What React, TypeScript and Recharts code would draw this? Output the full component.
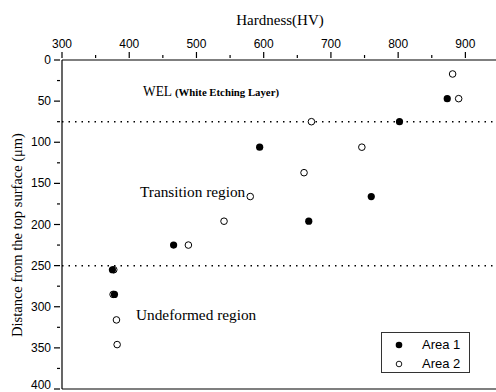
import { ReferenceLine, Scatter, ScatterChart, XAxis, YAxis } from "recharts";

const area1Hardness = [873, 802, 594, 760, 667, 466, 375, 378];
const area1Depth = [47, 75, 106, 166, 196, 225, 255, 285];
const area2Hardness = [881, 890, 671, 746, 660, 580, 541, 488, 377, 376, 381, 382];
const area2Depth = [17, 47, 75, 106, 137, 166, 196, 225, 255, 285, 316, 346];

const xTicks = [300, 350, 400, 450, 500, 550, 600, 650, 700, 750, 800, 850, 900, 950];
const yTicks = [0, 25, 50, 75, 100, 125, 150, 175, 200, 225, 250, 275, 300, 325, 350, 375, 400];
const boundaries = [75, 250];

const area1 = area1Hardness.map((hv, i) => ({ hv, depth: area1Depth[i] }));
const area2 = area2Hardness.map((hv, i) => ({ hv, depth: area2Depth[i] }));

const SANS = '"Liberation Sans", Arial, sans-serif';
const SERIF = '"Liberation Serif", "Times New Roman", serif';

// eslint-disable-next-line @typescript-eslint/no-explicit-any
function TopTick({ x, y, payload }: any) {
  const major = payload.value % 100 === 0;
  return (
    <g>
      <line x1={x} x2={x} y1={y - (major ? 6 : 3)} y2={y} stroke="#000" strokeWidth={1.2} />
      {major && (
        <text x={x} y={y - 10} textAnchor="middle" fontFamily={SANS} fontSize={12} fill="#000">
          {payload.value}
        </text>
      )}
    </g>
  );
}

// eslint-disable-next-line @typescript-eslint/no-explicit-any
function LeftTick({ x, y, payload }: any) {
  const major = payload.value % 50 === 0;
  // bottom label sits on the page edge, lift it so it stays readable
  const dy = payload.value === 400 ? 0 : 4;
  return (
    <g>
      <line x1={x - (major ? 6 : 3)} x2={x} y1={y} y2={y} stroke="#000" strokeWidth={1.2} />
      {major && (
        <text x={x - 9} y={y + dy} textAnchor="end" fontFamily={SANS} fontSize={12} fill="#000">
          {payload.value}
        </text>
      )}
    </g>
  );
}

// eslint-disable-next-line @typescript-eslint/no-explicit-any
function OpenDot({ cx, cy }: any) {
  return <circle cx={cx} cy={cy} r={3.3} fill="#fff" stroke="#000" strokeWidth={1} />;
}

// eslint-disable-next-line @typescript-eslint/no-explicit-any
function FilledDot({ cx, cy }: any) {
  return <circle cx={cx} cy={cy} r={3.6} fill="#000" />;
}

export default function App() {
  return (
    <div style={{ position: "absolute", left: 0, top: 0, width: 496, height: 392, overflow: "hidden", background: "#fff" }}>
      <ScatterChart width={499} height={392} margin={{ top: 0, right: 0, bottom: 3, left: 0 }}>
        <XAxis
          type="number"
          dataKey="hv"
          orientation="top"
          domain={[300, 950]}
          ticks={xTicks}
          interval={0}
          height={60}
          tickSize={0}
          tickLine={false}
          tick={<TopTick />}
          axisLine={{ stroke: "#000", strokeWidth: 1.2 }}
        />
        <YAxis
          type="number"
          dataKey="depth"
          reversed
          domain={[0, 400]}
          ticks={yTicks}
          interval={0}
          width={62}
          tickSize={0}
          tickLine={false}
          tick={<LeftTick />}
          axisLine={{ stroke: "#000", strokeWidth: 1.2 }}
        />
        {boundaries.map((b) => (
          <ReferenceLine key={b} y={b} stroke="#000" strokeWidth={1.5} strokeDasharray="1.5 5" />
        ))}
        <ReferenceLine y={400} stroke="#000" strokeWidth={1.2} />
        <Scatter name="Area 2" data={area2} shape={<OpenDot />} isAnimationActive={false} />
        <Scatter name="Area 1" data={area1} shape={<FilledDot />} isAnimationActive={false} />
      </ScatterChart>

      <svg
        width={496}
        height={392}
        style={{ position: "absolute", left: 0, top: 0, pointerEvents: "none" }}
        fontFamily={SERIF}
        fill="#000"
      >
        <text x={280} y={25} textAnchor="middle" fontSize={15}>
          Hardness(HV)
        </text>
        <text transform="translate(22, 235) rotate(-90)" textAnchor="middle" fontSize={14.5}>
          Distance from the top surface (μm)
        </text>
        <text x={143} y={96} fontSize={15} textLength={29} lengthAdjust="spacingAndGlyphs">
          WEL
        </text>
        <text x={175} y={96} fontSize={10.5} fontWeight="bold" textLength={104} lengthAdjust="spacingAndGlyphs">
          (White Etching Layer)
        </text>
        <text x={140} y={197} fontSize={15.3}>
          Transition region
        </text>
        <text x={136} y={320} fontSize={15.3}>
          Undeformed region
        </text>
      </svg>

      <div
        style={{
          position: "absolute",
          left: 381,
          top: 332,
          width: 89,
          height: 41,
          boxSizing: "border-box",
          border: "1px solid #333",
          background: "#fff",
          fontFamily: SANS,
          fontSize: 13,
        }}
      >
        {[
          { label: "Area 1", shape: <circle cx={5} cy={5} r={3.3} fill="#000" /> },
          { label: "Area 2", shape: <circle cx={5} cy={5} r={2.8} fill="#fff" stroke="#000" strokeWidth={0.9} /> },
        ].map((item, i) => (
          <div key={item.label} style={{ position: "absolute", left: 12, top: 4 + i * 19, display: "flex", alignItems: "center", gap: 18 }}>
            <svg width={10} height={10}>{item.shape}</svg>
            <span style={{ lineHeight: "15px" }}>{item.label}</span>
          </div>
        ))}
      </div>
    </div>
  );
}
